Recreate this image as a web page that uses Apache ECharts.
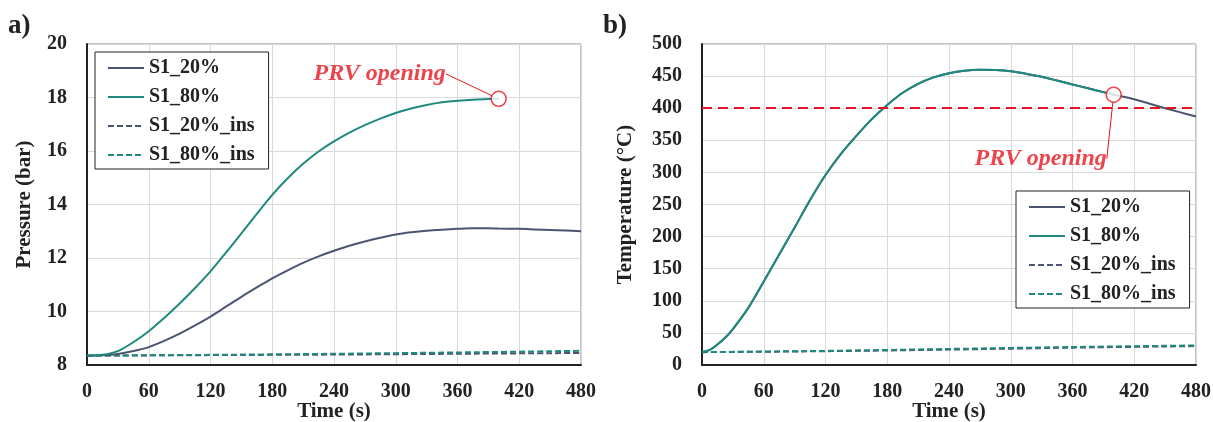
<!DOCTYPE html>
<html lang="en">
<head>
  <meta charset="UTF-8">
  <title>Pressure and temperature</title>
  <script src="https://cdn.jsdelivr.net/npm/echarts@6/dist/echarts.min.js"></script>
  <style>
    html, body { margin: 0; padding: 0; background: #fff; }
  </style>
</head>
<body>
  <div id="main" style="width: 1213px;height:422px;"></div>
  <script type="text/javascript">
    // a) pressure (bar), sampled every 15 s
    var timeP = [0, 15, 30, 45, 60, 75, 90, 105, 120, 135, 150, 165, 180, 195, 210, 225, 240, 255, 270, 285, 300, 315, 330, 345, 360, 375, 390, 400, 420, 435, 450, 465, 480];
    var p20 = [8.35, 8.36, 8.41, 8.52, 8.67, 8.9, 9.17, 9.48, 9.81, 10.18, 10.55, 10.9, 11.24, 11.54, 11.82, 12.06, 12.27, 12.46, 12.62, 12.76, 12.88, 12.96, 13.02, 13.06, 13.09, 13.11, 13.11, 13.1, 13.09, 13.07, 13.05, 13.03, 13.0];
    var p80 = [8.35, 8.38, 8.52, 8.85, 9.26, 9.76, 10.3, 10.88, 11.5, 12.2, 12.92, 13.65, 14.36, 14.98, 15.52, 15.98, 16.36, 16.69, 16.97, 17.21, 17.42, 17.59, 17.72, 17.82, 17.88, 17.92, 17.94, 17.95];
    var timeIns = [0, 120, 240, 360, 480];
    var p20ins = [8.35, 8.37, 8.39, 8.42, 8.45];
    var p80ins = [8.35, 8.38, 8.42, 8.47, 8.53];
    var prvP = [400, 17.95];

    // b) temperature (°C)
    var timeT = [0, 7.5, 15, 22.5, 30, 45, 60, 75, 90, 105, 120, 135, 150, 165, 180, 195, 210, 225, 240, 255, 270, 285, 300, 315, 330, 345, 360, 375, 390, 400, 420, 435, 450, 465, 480];
    var t20 = [20, 23.5, 32, 42.5, 56, 89, 130, 172, 214, 257, 296, 329, 357, 383, 405, 424, 438, 448, 454.5, 458.5, 460, 459.5, 457.5, 453.5, 449, 443, 437, 431, 425, 421, 414, 407, 400, 393.5, 387];
    var t80 = t20.slice(0, 30);
    var t20ins = [20, 21.5, 24, 27, 29.5];
    var t80ins = [20, 22, 25, 28, 30.5];
    var prvT = [400, 421];
    var prvLimit = 400;

    var names = ['S1_20%', 'S1_80%', 'S1_20%_ins', 'S1_80%_ins'];
    var navy = '#4b5572';
    var teal = '#20897e';
    var red = '#e8141e';
    var serif = '"Liberation Serif", "Times New Roman", serif';

    function zip(xs, ys) {
      return ys.map(function (v, i) { return [xs[i], v]; });
    }

    function line(name, idx, xs, ys, color, dashed) {
      return {
        name: name,
        type: 'line',
        xAxisIndex: idx,
        yAxisIndex: idx,
        data: zip(xs, ys),
        smooth: 0.3,
        symbol: 'none',
        lineStyle: { color: color, width: 2, type: dashed ? [6, 3] : 'solid' },
        itemStyle: { color: color },
        z: dashed ? 2 : 3
      };
    }

    function prv(idx, point, dx, dy) {
      return {
        name: 'PRV',
        type: 'scatter',
        xAxisIndex: idx,
        yAxisIndex: idx,
        data: [point],
        symbol: 'circle',
        symbolSize: 15,
        itemStyle: { color: '#fff', borderColor: red, borderWidth: 1.5 },
        label: {
          show: true,
          position: 'inside',
          formatter: 'PRV opening',
          color: red,
          fontFamily: serif,
          fontSize: 24,
          fontWeight: 'bold',
          fontStyle: 'italic'
        },
        labelLayout: { dx: dx, dy: dy },
        labelLine: { show: true, lineStyle: { color: red, width: 1 } },
        z: 5
      };
    }

    var xAxisBase = function (idx) {
      return {
        gridIndex: idx,
        type: 'value',
        min: 0,
        max: 480,
        interval: 60,
        name: 'Time (s)',
        nameLocation: 'middle',
        nameGap: 36,
        nameMoveOverlap: false,
        nameTextStyle: { fontFamily: serif, fontSize: 21, fontWeight: 'bold', color: '#222' },
        axisLine: { lineStyle: { color: '#222', width: 2 } },
        axisTick: { show: false },
        axisLabel: { margin: 17, fontFamily: serif, fontSize: 20, fontWeight: 'bold', color: '#222' },
        splitLine: { show: true, lineStyle: { color: '#dadada', width: 1 } }
      };
    };

    var yAxisBase = function (idx, name, min, max, interval, gap) {
      return {
        gridIndex: idx,
        type: 'value',
        min: min,
        max: max,
        interval: interval,
        name: name,
        nameLocation: 'middle',
        nameRotate: 90,
        nameGap: gap,
        nameTextStyle: { fontFamily: serif, fontSize: 21, fontWeight: 'bold', color: '#222' },
        axisLine: { show: true, lineStyle: { color: '#222', width: 2 } },
        axisTick: { show: false },
        axisLabel: { margin: 20, fontFamily: serif, fontSize: 20, fontWeight: 'bold', color: '#222' },
        splitLine: { show: true, lineStyle: { color: '#dadada', width: 1 } }
      };
    };

    var legendBase = function (left, top) {
      return {
        orient: 'vertical',
        left: left,
        top: top,
        data: names,
        itemWidth: 36,
        itemHeight: 14,
        itemGap: 9,
        padding: [6, 14, 4, 12],
        backgroundColor: '#fff',
        borderColor: '#222',
        borderWidth: 1,
        borderRadius: 0,
        itemStyle: { opacity: 0 },
        textStyle: { fontFamily: serif, fontSize: 20, lineHeight: 20, fontWeight: 'bold', color: '#222' }
      };
    };

    var myChart = echarts.init(document.getElementById('main'));

    var tempLine = line(names[0], 1, timeT, t20, navy, false);
    tempLine.markLine = {
      silent: true,
      symbol: 'none',
      label: { show: false },
      lineStyle: { color: red, width: 2, type: [10, 6] },
      data: [{ yAxis: prvLimit }]
    };

    var option = {
      animation: false,
      title: [
        { text: 'a)', left: 3, top: 8, textStyle: { fontFamily: serif, fontSize: 27, fontWeight: 'bold', color: '#222' } },
        { text: 'b)', left: 598, top: 8, textStyle: { fontFamily: serif, fontSize: 27, fontWeight: 'bold', color: '#222' } }
      ],
      grid: [
        { left: 87, top: 44, width: 494, height: 321, show: true, borderColor: '#888', borderWidth: 1, outerBoundsMode: 'none' },
        { left: 702, top: 44, width: 494, height: 321, show: true, borderColor: '#888', borderWidth: 1, outerBoundsMode: 'none' }
      ],
      xAxis: [xAxisBase(0), xAxisBase(1)],
      yAxis: [
        yAxisBase(0, 'Pressure (bar)', 8, 20, 2, 52),
        yAxisBase(1, 'Temperature (°C)', 0, 500, 50, 66)
      ],
      legend: [legendBase(95, 52), legendBase(1016, 191)],
      series: [
        line(names[2], 0, timeIns, p20ins, navy, true),
        line(names[3], 0, timeIns, p80ins, teal, true),
        line(names[0], 0, timeP, p20, navy, false),
        line(names[1], 0, timeP, p80, teal, false),
        prv(0, prvP, -119, -25),
        line(names[2], 1, timeIns, t20ins, navy, true),
        line(names[3], 1, timeIns, t80ins, teal, true),
        tempLine,
        line(names[1], 1, timeT, t80, teal, false),
        prv(1, prvT, -73, 64)
      ]
    };

    myChart.setOption(option);
  </script>
</body>
</html>
